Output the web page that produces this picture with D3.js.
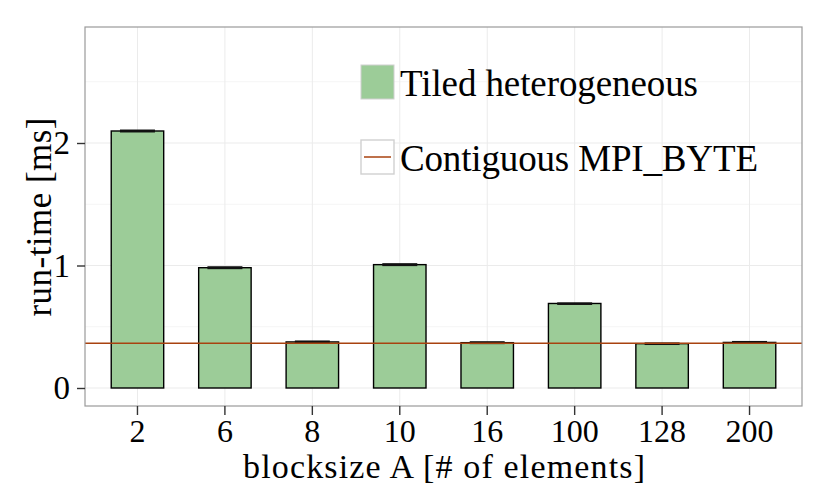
<!DOCTYPE html>
<html>
<head>
<meta charset="utf-8">
<script src="https://cdn.jsdelivr.net/npm/d3@7"></script>
<style>
  body { margin: 0; background: #fff; }
  text { font-family: "Liberation Serif", "DejaVu Serif", serif; fill: #000; }
</style>
</head>
<body>
<div id="chart"></div>
<script>
// data
var blocksizes = ["2", "6", "8", "10", "16", "100", "128", "200"];
var runtimes   = [2.098, 0.982, 0.376, 1.007, 0.370, 0.690, 0.362, 0.372];
var errLow     = [2.090, 0.974, 0.370, 0.999, 0.362, 0.685, 0.356, 0.364];
var errHigh    = [2.106, 0.990, 0.384, 1.015, 0.378, 0.695, 0.368, 0.380];
var contiguous = 0.365;
var yTicks = [0, 1, 2];
var yMinor = [0.5, 1.5, 2.5];
var legendLabels = ["Tiled heterogeneous", "Contiguous MPI_BYTE"];

var w = 830, h = 498;
var pLeft = 85, pRight = 802, pTop = 27, pBottom = 406;
var green = "#9ccc98", lineColor = "#a8420f";

var svg = d3.select("#chart").append("svg")
  .attr("width", w).attr("height", h);

// discrete scale with 0.6 expansion on both sides (like ggplot)
var step = (pRight - pLeft) / (blocksizes.length + 0.2);
var xScale = d3.scaleBand()
  .domain(blocksizes)
  .range([pLeft + 0.1 * step, pRight - 0.1 * step])
  .paddingInner(0).paddingOuter(0);

var yScale = d3.scaleLinear()
  .domain([-0.147, 2.947])
  .range([pBottom, pTop]);

var bw = xScale.bandwidth();

// minor grid
svg.append("g").selectAll("line").data(yMinor).enter().append("line")
  .attr("x1", pLeft).attr("x2", pRight)
  .attr("y1", d => yScale(d)).attr("y2", d => yScale(d))
  .attr("stroke", "#f5f5f5").attr("stroke-width", 1);

// major grid
svg.append("g").selectAll("line").data(yTicks).enter().append("line")
  .attr("x1", pLeft).attr("x2", pRight)
  .attr("y1", d => yScale(d)).attr("y2", d => yScale(d))
  .attr("stroke", "#ebebeb").attr("stroke-width", 1);
svg.append("g").selectAll("line").data(blocksizes).enter().append("line")
  .attr("y1", pTop).attr("y2", pBottom)
  .attr("x1", d => xScale(d) + bw / 2).attr("x2", d => xScale(d) + bw / 2)
  .attr("stroke", "#ebebeb").attr("stroke-width", 1);

// bars
svg.append("g").selectAll("rect").data(runtimes).enter().append("rect")
  .attr("x", (d, i) => xScale(blocksizes[i]) + bw * 0.2)
  .attr("width", bw * 0.6)
  .attr("y", d => yScale(d))
  .attr("height", d => yScale(0) - yScale(d))
  .attr("fill", green).attr("stroke", "#000").attr("stroke-width", 1.4);

// error bars
svg.append("g").selectAll("rect").data(runtimes).enter().append("rect")
  .attr("x", (d, i) => xScale(blocksizes[i]) + bw * 0.3)
  .attr("width", bw * 0.4)
  .attr("y", (d, i) => yScale(errHigh[i]) - 0.5)
  .attr("height", (d, i) => Math.max(2.6, yScale(errLow[i]) - yScale(errHigh[i]) + 1))
  .attr("fill", "#111");

// contiguous line
svg.append("line")
  .attr("x1", pLeft).attr("x2", pRight)
  .attr("y1", yScale(contiguous)).attr("y2", yScale(contiguous))
  .attr("stroke", lineColor).attr("stroke-width", 1.5);

// panel border
svg.append("rect")
  .attr("x", pLeft).attr("y", pTop)
  .attr("width", pRight - pLeft).attr("height", pBottom - pTop)
  .attr("fill", "none").attr("stroke", "#9a9a9a").attr("stroke-width", 1.2);

// axes
var xAxis = d3.axisBottom(xScale).tickSize(9).tickPadding(4);
var gx = svg.append("g").attr("transform", "translate(0," + pBottom + ")").call(xAxis);
gx.select(".domain").remove();
gx.selectAll(".tick line").attr("stroke", "#333").attr("stroke-width", 1.4);
gx.selectAll("text").style("font-size", "32px").style("font-family", "Liberation Serif");

var yAxis = d3.axisLeft(yScale).tickValues(yTicks).tickSize(8).tickPadding(7).tickFormat(d3.format("d"));
var gy = svg.append("g").attr("transform", "translate(" + pLeft + ",0)").call(yAxis);
gy.select(".domain").remove();
gy.selectAll(".tick line").attr("stroke", "#333").attr("stroke-width", 1.4);
gy.selectAll("text").style("font-size", "33px").style("font-family", "Liberation Serif");

// axis titles
svg.append("text")
  .attr("x", 444).attr("y", 478)
  .attr("text-anchor", "middle").style("font-size", "34px")
  .attr("textLength", 402).attr("lengthAdjust", "spacing")
  .text("blocksize A [# of elements]");
svg.append("text")
  .attr("transform", "translate(51,217) rotate(-90)")
  .attr("text-anchor", "middle").style("font-size", "35px")
  .attr("textLength", 199).attr("lengthAdjust", "spacing")
  .text("run-time [ms]");

// legend
var lg = svg.append("g");
lg.append("rect").attr("x", 361).attr("y", 65).attr("width", 33).attr("height", 34)
  .attr("fill", green).attr("stroke", "#d0d0d0").attr("stroke-width", 1);
lg.append("rect").attr("x", 361).attr("y", 140).attr("width", 33).attr("height", 34)
  .attr("fill", "#fff").attr("stroke", "#d0d0d0").attr("stroke-width", 1.4);
lg.append("line").attr("x1", 364).attr("x2", 391).attr("y1", 157).attr("y2", 157)
  .attr("stroke", lineColor).attr("stroke-width", 1.5);
var legendWidths = [298, 358];
lg.selectAll("text.lab").data(legendLabels).enter().append("text")
  .attr("class", "lab")
  .attr("x", 400).attr("y", (d, i) => 96 + i * 75)
  .style("font-size", "37px")
  .attr("textLength", (d, i) => legendWidths[i]).attr("lengthAdjust", "spacing")
  .text(d => d);
</script>
</body>
</html>
